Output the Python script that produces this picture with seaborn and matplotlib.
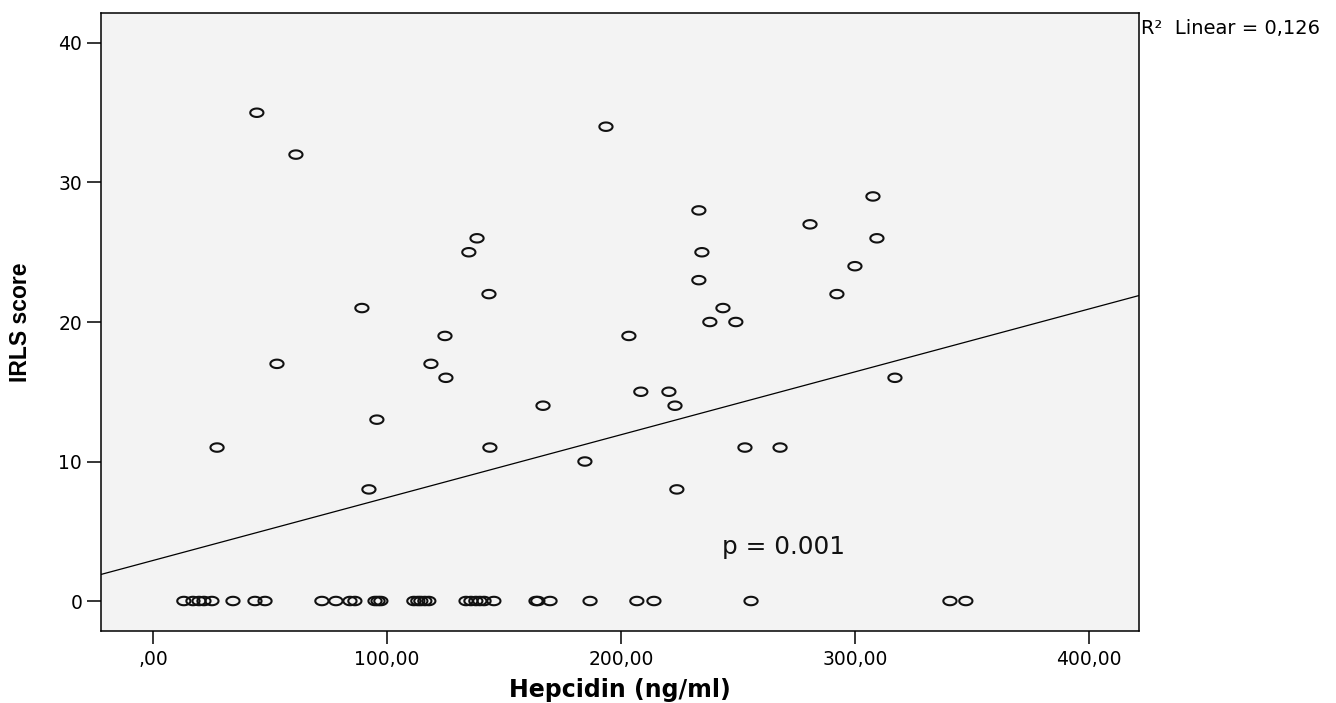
import numpy as np
import pandas as pd
import matplotlib
matplotlib.use("Agg")
import matplotlib.pyplot as plt
from matplotlib.path import Path
import seaborn as sns

# ---- data ----
hepcidin_zero_irls = [13.2, 17.1, 19.7, 21.8, 25.2, 34.2, 43.6, 47.9, 72.2, 78.2,
                      84.2, 86.3, 94.9, 96.2, 97.4, 111.5, 113.2, 114.5, 116.2, 117.9,
                      133.8, 135.9, 138.0, 139.7, 141.5, 145.7, 163.7, 164.5, 169.7,
                      186.8, 206.8, 214.1, 255.6, 340.6, 347.4]
hepcidin_pos = [44.4, 61.1, 27.4, 53.0, 89.3, 92.3, 95.7, 118.8, 124.8, 125.2,
                135.0, 138.5, 143.6, 144.0, 166.7, 184.6, 193.6, 203.4, 208.5, 220.5,
                223.1, 223.9, 233.3, 233.3, 234.6, 243.6, 238.0, 249.1, 253.0, 268.0,
                280.8, 292.3, 300.0, 307.7, 309.4, 317.1]
irls_pos = [35, 32, 11, 17, 21, 8, 13, 17, 19, 16,
            25, 26, 22, 11, 14, 10, 34, 19, 15, 15,
            14, 8, 28, 23, 25, 21, 20, 20, 11, 11,
            27, 22, 24, 29, 26, 16]
x_ticks = [0, 100, 200, 300, 400]
x_tick_labels = [",00", "100,00", "200,00", "300,00", "400,00"]
y_ticks = [0, 10, 20, 30, 40]
r2_label = "R\u00b2  Linear = 0,126"
p_label = "p = 0.001"

df = pd.DataFrame({
    "Hepcidin (ng/ml)": list(hepcidin_zero_irls) + list(hepcidin_pos),
    "IRLS score": [0] * len(hepcidin_zero_irls) + list(irls_pos),
})

sns.set_style("ticks")
plt.rcParams["font.family"] = ["DejaVu Sans"]

fig = plt.figure(figsize=(13.36, 7.03), dpi=100)
ax = fig.add_axes([101 / 1336, 1 - 631 / 703, 1038 / 1336, 618 / 703])
ax.set_facecolor("#f3f3f3")
ax.set_xlim(-22.2, 421.4)
ax.set_ylim(-2.15, 42.15)

t = np.linspace(0, 2 * np.pi, 60)
ellipse = Path(np.column_stack([np.cos(t), 0.64 * np.sin(t)]), closed=True)

sns.regplot(data=df, x="Hepcidin (ng/ml)", y="IRLS score", ax=ax, ci=None,
            truncate=False, marker=ellipse, color="black",
            scatter_kws=dict(s=90, facecolors="none", edgecolors="#111111",
                             linewidths=1.5, alpha=1, zorder=3),
            line_kws=dict(color="black", linewidth=0.9, zorder=2))

ax.set_xlim(-22.2, 421.4)
ax.set_ylim(-2.15, 42.15)
ax.set_xticks(x_ticks)
ax.set_xticklabels(x_tick_labels)
ax.set_yticks(y_ticks)

for side in ["left", "right", "top", "bottom"]:
    ax.spines[side].set_visible(True)
    ax.spines[side].set_color("black")
    ax.spines[side].set_linewidth(1.1)

ax.tick_params(axis="x", direction="out", length=9, width=1.1, pad=5,
               labelsize=13.5, colors="black")
ax.tick_params(axis="y", direction="out", length=10, width=1.1, pad=3.5,
               labelsize=13.5, colors="black")

ax.set_xlabel("Hepcidin (ng/ml)", fontsize=17, fontweight="bold",
              family=["DejaVu Sans"], va="center", color="black")
ax.xaxis.set_label_coords(0.5, -0.0955)
ax.set_ylabel("IRLS score", fontsize=16.5, fontweight="bold",
              family=["Liberation Sans Narrow", "Liberation Sans"], va="center",
              color="black")
ax.yaxis.set_label_coords(-0.078, 0.5)

ax.text(243.2, 3.37, p_label, fontsize=17.8, ha="left", va="baseline",
        color="#111111")
fig.text(1141 / 1336, 1 - 34 / 703, r2_label, fontsize=14, ha="left",
         va="baseline", color="black")

fig.savefig("out.png", dpi=100, facecolor="white")
